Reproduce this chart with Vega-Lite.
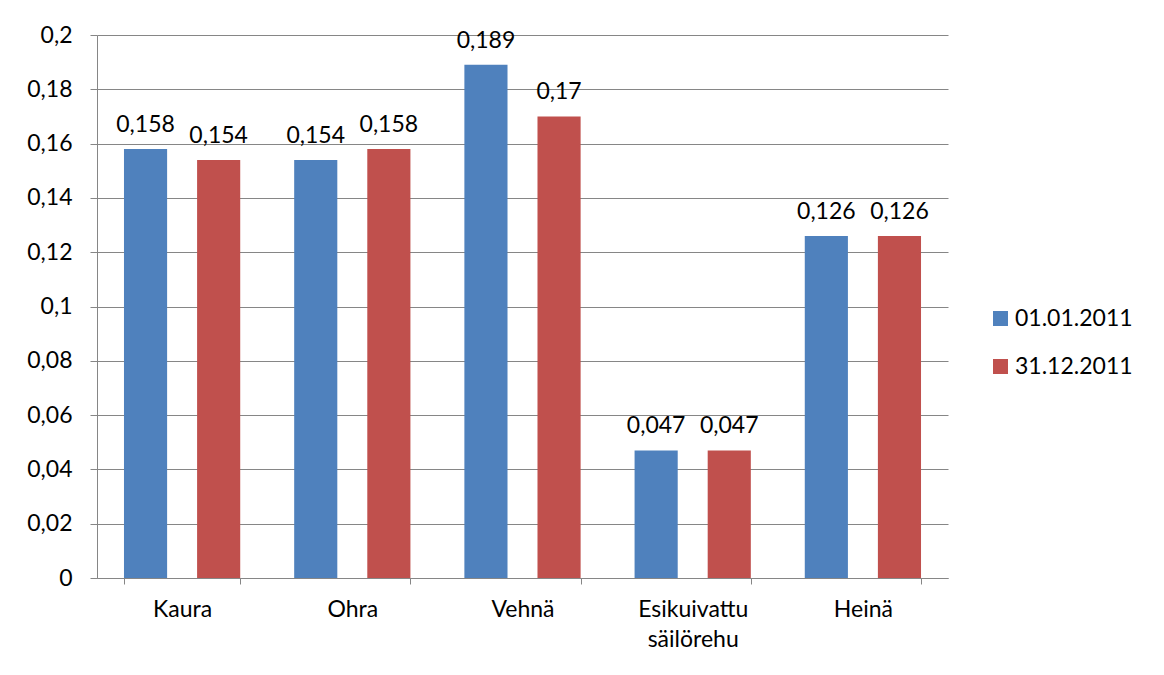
{
  "$schema": "https://vega.github.io/schema/vega-lite/v6.json",
  "width": 851,
  "height": 543,
  "autosize": {"type": "none"},
  "padding": {"left": 97, "top": 35, "right": 216, "bottom": 97},
  "background": "white",
  "config": {
    "font": "Lato",
    "view": {"stroke": null},
    "locale": {"number": {"decimal": ",", "thousands": " ", "grouping": [3], "currency": ["", " €"]}}
  },
  "data": {
    "values": [
      {"kasvi": "Kaura", "pvm": "01.01.2011", "arvo": 0.158},
      {"kasvi": "Kaura", "pvm": "31.12.2011", "arvo": 0.154},
      {"kasvi": "Ohra", "pvm": "01.01.2011", "arvo": 0.154},
      {"kasvi": "Ohra", "pvm": "31.12.2011", "arvo": 0.158},
      {"kasvi": "Vehnä", "pvm": "01.01.2011", "arvo": 0.189},
      {"kasvi": "Vehnä", "pvm": "31.12.2011", "arvo": 0.17},
      {"kasvi": "Esikuivattu säilörehu", "pvm": "01.01.2011", "arvo": 0.047},
      {"kasvi": "Esikuivattu säilörehu", "pvm": "31.12.2011", "arvo": 0.047},
      {"kasvi": "Heinä", "pvm": "01.01.2011", "arvo": 0.126},
      {"kasvi": "Heinä", "pvm": "31.12.2011", "arvo": 0.126}
    ]
  },
  "encoding": {
    "x": {
      "field": "kasvi", "type": "nominal", "sort": null,
      "scale": {"paddingInner": 0.317, "paddingOuter": 0.1585},
      "axis": {
        "title": null, "labelAngle": 0, "domainColor": "#868686", "tickColor": "#868686",
        "tickBand": "extent", "tickSize": 6, "labelPadding": 14,
        "labelFontSize": 23, "labelColor": "#000000", "labelLineHeight": 30,
        "labelExpr": "datum.label == 'Esikuivattu säilörehu' ? ['Esikuivattu', 'säilörehu'] : datum.label"
      }
    },
    "xOffset": {"field": "pvm", "type": "nominal", "scale": {"paddingInner": 0.41, "paddingOuter": 0}},
    "y": {
      "field": "arvo", "type": "quantitative",
      "scale": {"domain": [0, 0.2], "nice": false},
      "axis": {
        "title": null, "values": [0, 0.02, 0.04, 0.06, 0.08, 0.1, 0.12, 0.14, 0.16, 0.18, 0.2],
        "format": ".2~f", "gridColor": "#868686", "domainColor": "#868686", "tickColor": "#868686",
        "tickSize": 7, "labelPadding": 18, "labelFontSize": 23, "labelColor": "#000000"
      }
    },
    "color": {
      "field": "pvm", "type": "nominal",
      "scale": {"domain": ["01.01.2011", "31.12.2011"], "range": ["#4F81BD", "#C0504D"]},
      "legend": {
        "title": null, "orient": "none", "legendX": 892, "legendY": 272,
        "symbolType": "square", "symbolSize": 225, "symbolStrokeWidth": 0,
        "labelFontSize": 23, "labelColor": "#000000", "rowPadding": 24, "labelOffset": 3
      }
    }
  },
  "layer": [
    {"mark": {"type": "bar"}},
    {
      "mark": {"type": "text", "baseline": "alphabetic", "dy": -17, "fontSize": 23, "color": "#000000"},
      "encoding": {"text": {"field": "arvo", "type": "quantitative", "format": ".3~f"}, "color": {"value": "#000000"}}
    }
  ]
}
